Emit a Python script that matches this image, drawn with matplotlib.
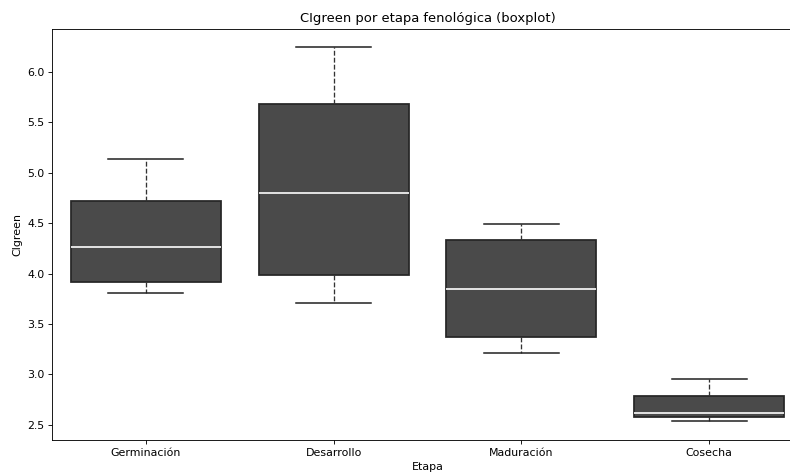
import matplotlib
matplotlib.use("Agg")
import matplotlib.pyplot as plt

# resumen por etapa: bigote inferior, Q1, mediana, Q3, bigote superior
etapas = ["Germinación", "Desarrollo", "Maduración", "Cosecha"]
bigote_inf = [3.81, 3.71, 3.21, 2.54]
q1 = [3.92, 3.985, 3.37, 2.58]
mediana = [4.263, 4.795, 3.85, 2.62]
q3 = [4.716, 5.683, 4.333, 2.79]
bigote_sup = [5.135, 6.245, 4.49, 2.956]

stats = [
    {"label": e, "whislo": lo, "q1": a, "med": m, "q3": b, "whishi": hi, "fliers": []}
    for e, lo, a, m, b, hi in zip(etapas, bigote_inf, q1, mediana, q3, bigote_sup)
]

fig = plt.figure(figsize=(10, 476 / 79), dpi=79)
ax = fig.add_axes([52 / 790, 1 - 440 / 476, 751 / 790, 411 / 476])

ax.bxp(stats, positions=range(len(etapas)), widths=0.8, patch_artist=True,
       showfliers=False,
       boxprops=dict(facecolor="#4a4a4a", edgecolor="#262626", linewidth=1.6),
       whiskerprops=dict(color="#333333", linestyle="--", linewidth=1.2),
       capprops=dict(color="#222222", linewidth=1.4),
       medianprops=dict(color="white", linewidth=1.5))

ax.set_xlim(-0.5, 3.5)
ax.set_ylim(2.351, 6.423)
ax.set_xticks(range(len(etapas)))
ax.set_xticklabels(etapas)
ax.set_title("CIgreen por etapa fenológica (boxplot)", fontsize=12)
ax.set_xlabel("Etapa")
ax.set_ylabel("CIgreen")

fig.savefig("out.png", dpi=79, facecolor="white")
